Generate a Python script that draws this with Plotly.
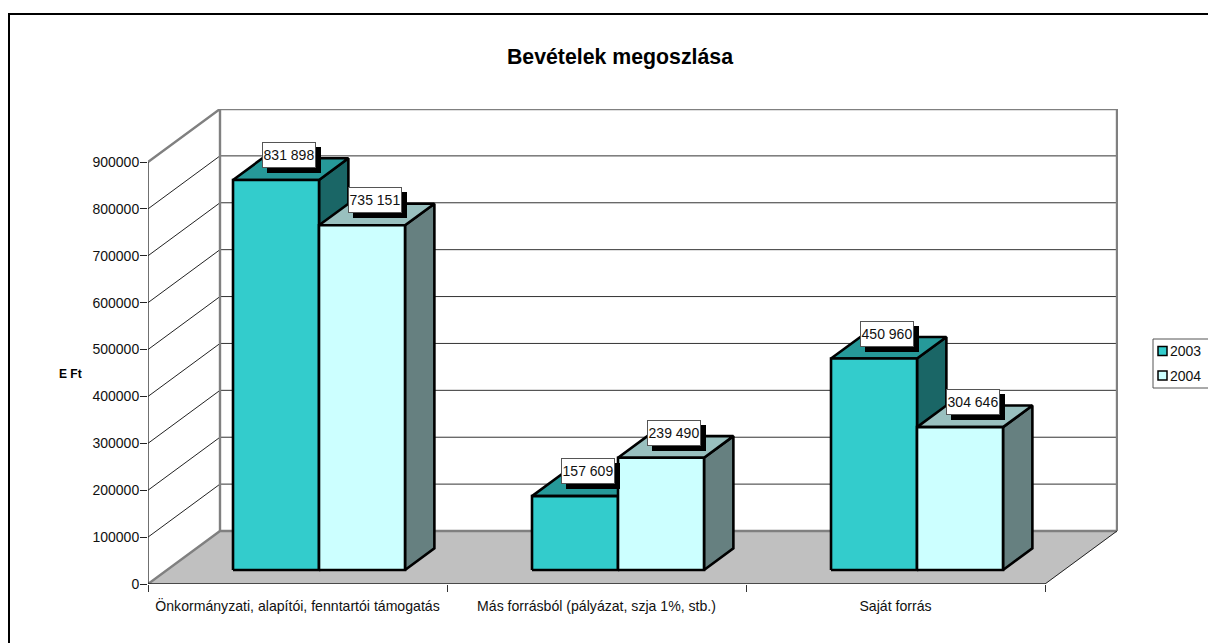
import plotly.graph_objects as go

categories = ["Önkormányzati, alapítói, fenntartói támogatás", "Más forrásból (pályázat, szja 1%, stb.)", "Saját forrás"]
series_names = ["2003", "2004"]
values_2003 = [831898, 157609, 450960]
values_2004 = [735151, 239490, 304646]
value_labels_2003 = ["831 898", "157 609", "450 960"]
value_labels_2004 = ["735 151", "239 490", "304 646"]
y_ticks = [0, 100000, 200000, 300000, 400000, 500000, 600000, 700000, 800000, 900000]

OFF = 8  # the page body has an 8 px margin
W, H = 1216 - OFF, 643 - OFF
PL, PR, PT, PB = 148 - OFF, 1118 - OFF, 109 - OFF, 584 - OFF
CAT_PX = 299.0
Y_PX = 422.0
YMAX = 900000
DX = 72 / CAT_PX
DY = 53 / Y_PX * YMAX
XR = (PR - PL) / CAT_PX
YR = (PB - PT) / Y_PX * YMAX
BAR_START = 66 / CAT_PX
BAR_W = 86 / CAT_PX
D0, D1 = 0.264, 0.672


def P(x, v, d=0.0):
    return x + d * DX, v + d * DY


def px(x):
    return (x - OFF - PL) / (PR - PL)


def py(y):
    return (PB - (y - OFF)) / (PB - PT)


fig = go.Figure()


def poly(points, fill=None, color="black", width=1.0):
    xs = [P(*p)[0] for p in points]
    ys = [P(*p)[1] for p in points]
    if fill:
        xs.append(xs[0])
        ys.append(ys[0])
    fig.add_trace(go.Scatter(
        x=xs, y=ys, mode="lines", fill="toself" if fill else None,
        fillcolor=fill, line=dict(color=color, width=width),
        hoverinfo="skip", showlegend=False, cliponaxis=False))


# back wall grid, left wall grid
for t in y_ticks[1:]:
    poly([(0, t, 1), (3, t, 1)], color="#333333", width=1)
    poly([(0, t, 0), (0, t, 1)], color="#222222", width=1)
# floor
poly([(0, 0, 0), (3, 0, 0), (3, 0, 1), (0, 0, 1)], fill="#C0C0C0", color="#C0C0C0", width=0.5)
# wall edges
poly([(0, YMAX, 0), (0, YMAX, 1), (3, YMAX, 1), (3, 0, 1)], color="#808080", width=2.4)
poly([(0, YMAX, 1), (0, 0, 1)], color="#808080", width=2.4)
poly([(0, 0, 0), (0, 0, 1), (3, 0, 1)], color="#808080", width=2.4)
poly([(3, 0, 0), (3, 0, 1)], color="#222222", width=1)
# axes
poly([(0, 0, 0), (0, YMAX, 0)], color="#222222", width=1.3)
poly([(0, 0, 0), (3, 0, 0)], color="#222222", width=1.3)

styles = [
    dict(front="#33CCCC", top="#269999", side="#1A6666"),
    dict(front="#CCFFFF", top="#99C0BF", side="#668080"),
]
for j, vals in enumerate([values_2003, values_2004]):
    st = styles[j]
    for i, v in enumerate(vals):
        x0 = i + BAR_START + j * BAR_W
        x1 = x0 + BAR_W
        poly([(x1, 0, D0), (x1, 0, D1), (x1, v, D1), (x1, v, D0)], fill=st["side"], width=2.6)
        poly([(x0, v, D0), (x1, v, D0), (x1, v, D1), (x0, v, D1)], fill=st["top"], width=2.6)
        poly([(x0, 0, D0), (x1, 0, D0), (x1, v, D0), (x0, v, D0)], fill=st["front"], width=2.6)

# data labels
FONT = "Liberation Sans, Arial, sans-serif"
for j, (vals, labs) in enumerate([(values_2003, value_labels_2003), (values_2004, value_labels_2004)]):
    for i, (v, lab) in enumerate(zip(vals, labs)):
        xc = i + BAR_START + (j + 0.5) * BAR_W
        ax, ay = P(xc, v, (D0 + D1) / 2)
        fig.add_annotation(x=ax, y=ay, text=" ", showarrow=False, xshift=3.3, yshift=9,
                           width=52, height=24, font=dict(size=14, color="black", family=FONT),
                           bgcolor="black", bordercolor="black", borderwidth=1, borderpad=0)
        fig.add_annotation(x=ax, y=ay, text=lab, showarrow=False, xshift=-1.7, yshift=14,
                           width=52, height=24, font=dict(size=14, color="#111111", family=FONT),
                           bgcolor="white", bordercolor="#555555", borderwidth=1, borderpad=0)

# outer frame
fig.add_shape(type="rect", xref="paper", yref="paper", x0=px(9), x1=px(1300), y0=py(700), y1=py(14),
              line=dict(color="black", width=2), layer="below")

# legend box with keys
fig.add_shape(type="rect", xref="paper", yref="paper", x0=px(1153), x1=px(1210), y0=py(388), y1=py(339),
              line=dict(color="#555555", width=1), fillcolor="white")
for k, (name, st) in enumerate(zip(series_names, styles)):
    yc = 351 + 24.5 * k
    fig.add_shape(type="rect", xref="paper", yref="paper", x0=px(1158), x1=px(1167), y0=py(yc + 4.5), y1=py(yc - 4.5),
                  line=dict(color="black", width=1.5), fillcolor=st["front"])
    fig.add_annotation(xref="paper", yref="paper", x=px(1170), y=py(yc), text=name, showarrow=False,
                       xanchor="left", yanchor="middle", xshift=-2, font=dict(size=14, color="#111111", family=FONT))

# axis title (horizontal, as in the reference)
fig.add_annotation(xref="paper", yref="paper", x=px(70), y=py(374), text="<b>E Ft</b>", showarrow=False,
                   xanchor="center", yanchor="middle", font=dict(size=12, color="black", family=FONT))

fig.update_layout(
    width=W, height=H, showlegend=False,
    margin=dict(l=PL, r=W - PR, t=PT, b=H - PB, pad=0, autoexpand=False),
    paper_bgcolor="white", plot_bgcolor="white",
    font=dict(family=FONT, size=14, color="#111111"),
    title=dict(text="<b>Bevételek megoszlása</b>", x=(620 - OFF) / W, xanchor="center", y=1 - (57 - OFF) / H, yanchor="middle",
               font=dict(size=21.3, color="black", family=FONT)),
    xaxis=dict(range=[0, XR], showgrid=False, zeroline=False, showline=False,
               tickmode="array", tickvals=[0.5, 1.5, 2.5], ticktext=categories, ticks="",
               tickfont=dict(size=14.1), ticklabelstandoff=12,
               minor=dict(tickmode="array", tickvals=[0, 1, 2, 3], ticks="outside", ticklen=7, tickcolor="#333333", tickwidth=1, showgrid=False)),
    yaxis=dict(range=[0, YR], showgrid=False, zeroline=False, showline=False,
               tickmode="array", tickvals=y_ticks, ticktext=[str(t) for t in y_ticks],
               ticks="outside", ticklen=7, tickcolor="#222222", tickwidth=1, tickfont=dict(size=14),
               ticklabelstandoff=-2),
)
fig.write_html("out.html")
